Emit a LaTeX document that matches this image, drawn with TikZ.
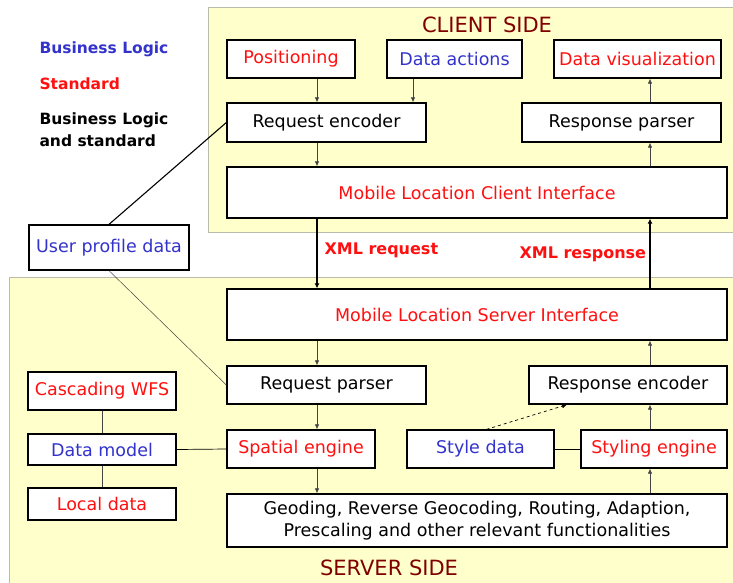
\documentclass[tikz,border=0pt]{standalone}
\usepackage{fontspec}
\setmainfont{DejaVu Sans}
\usepackage{xcolor}
\usetikzlibrary{arrows.meta}
\definecolor{zone}{HTML}{FFFFCC}
\definecolor{zoneline}{HTML}{BBBBAA}
\definecolor{logic}{HTML}{3333CC}
\definecolor{norm}{HTML}{FF1010}
\definecolor{side}{HTML}{800000}
\definecolor{wire}{HTML}{444444}

\begin{document}
\begin{tikzpicture}[x=1pt, y=-1pt,
    box/.style={draw=black, line width=1.3pt, fill=white, inner sep=0pt,
                font=\fontsize{17.5}{22}\selectfont},
    wireline/.style={draw=wire, line width=0.7pt},
    arr/.style={wireline, -{Latex[length=5pt,width=4.5pt]}},
    xmlarr/.style={draw=black, line width=1.5pt, -{Latex[length=5pt,width=5pt]}},
    tag/.style={font=\bfseries\fontsize{15.5}{22}\selectfont, anchor=west}]
    \useasboundingbox (0,0) rectangle (733,582);

    % Client and server zones
    \fill[zone, draw=zoneline, line width=1pt] (208,7) rectangle (735,232);
    \fill[zone, draw=zoneline, line width=1pt] (9,277) rectangle (735,584);
    \node[text=side, font=\fontsize{21}{24}\selectfont] (client) at (487,25) {CLIENT SIDE};
    \node[text=side, font=\fontsize{21}{24}\selectfont] (server) at (389,568) {SERVER SIDE};

    % Legend
    \node[tag, text=logic] (lgd1) at (36,49) {Business Logic};
    \node[tag, text=norm] (lgd2) at (36,84) {Standard};
    \node[tag, align=left] (lgd3) at (36,130) {Business Logic\\and standard};

    % Client boxes
    \node[box, text=norm, minimum width=128, minimum height=38] (pos) at (291,59) {Positioning};
    \node[box, text=logic, minimum width=135, minimum height=38] (act) at (454.5,59) {Data actions};
    \node[box, text=norm, minimum width=167, minimum height=38] (vis) at (637.5,59) {Data visualization};
    \node[box, minimum width=199, minimum height=39] (reqenc) at (326.5,122.5) {Request encoder};
    \node[box, minimum width=199, minimum height=39] (respar) at (621.5,122.5) {Response parser};
    \node[box, text=norm, minimum width=500, minimum height=51] (mlci) at (477,192.5) {Mobile Location Client Interface};
    \node[box, text=logic, minimum width=160, minimum height=45] (user) at (109,247.5) {User profile data};

    % Server boxes
    \node[box, text=norm, minimum width=500, minimum height=51] (mlsi) at (477,314.5) {Mobile Location Server Interface};
    \node[box, minimum width=199, minimum height=38] (reqpar) at (326.5,385) {Request parser};
    \node[box, minimum width=198, minimum height=38] (respenc) at (628,385) {Response encoder};
    \node[box, text=norm, minimum width=148, minimum height=38] (wfs) at (102,391) {Cascading WFS};
    \node[box, text=logic, minimum width=148, minimum height=31] (model) at (102,449.5) {Data model};
    \node[box, text=norm, minimum width=148, minimum height=32] (local) at (102,504) {Local data};
    \node[box, text=norm, minimum width=148, minimum height=38] (spatial) at (301,449) {Spatial engine};
    \node[box, text=logic, minimum width=147, minimum height=38] (style) at (480.5,449) {Style data};
    \node[box, text=norm, minimum width=146, minimum height=38] (styling) at (654,449) {Styling engine};
    \node[box, align=center, minimum width=500, minimum height=53] (func) at (477,520.5)
        {Geoding, Reverse Geocoding, Routing, Adaption,\\Prescaling and other relevant functionalities};

    % Columns of the flow
    \coordinate (down) at (317,0);
    \coordinate (up) at (650,0);
    \coordinate (mid) at (413,0);

    % Request path
    \draw[arr] (pos.south -| down) -- (reqenc.north -| down);
    \draw[arr] (act.south -| mid) -- (reqenc.north -| mid);
    \draw[arr] (reqenc.south -| down) -- (mlci.north -| down);
    \draw[xmlarr] (mlci.south -| down) -- (mlsi.north -| down);
    \draw[arr] (mlsi.south -| down) -- (reqpar.north -| down);
    \draw[arr] (reqpar.south -| down) -- (spatial.north -| down);
    \draw[arr] (spatial.south -| down) -- (func.north -| down);

    % Response path
    \draw[arr] (func.north -| up) -- (styling.south -| up);
    \draw[arr] (styling.north -| up) -- (respenc.south -| up);
    \draw[arr] (respenc.north -| up) -- (mlsi.south -| up);
    \draw[xmlarr] (mlsi.north -| up) -- (mlci.south -| up);
    \draw[arr] (mlci.north -| up) -- (respar.south -| up);
    \draw[arr] (respar.north -| up) -- (vis.south -| up);
    \draw[arr, dashed, draw=black] ([xshift=6pt]style.north) -- ([xshift=-61pt]respenc.south);

    % Data links
    \draw[draw=black, line width=0.7pt] (model.east) -- (spatial.west);
    \draw[draw=black, line width=0.7pt] (style.east) -- (styling.west);
    \draw[wireline] (wfs.south) -- (model.north);
    \draw[wireline] (model.south) -- (local.north);
    \draw[draw=black, line width=1.1pt] (user.north) -- (reqenc.west);
    \draw[wireline, line width=0.5pt] (user.south) -- (reqpar.west);

    % XML labels
    \node[text=norm, font=\bfseries\fontsize{16}{20}\selectfont, anchor=west] (xmlreq) at (321,250) {XML request};
    \node[text=norm, font=\bfseries\fontsize{16}{20}\selectfont, anchor=west] (xmlresp) at (516,254) {XML response};
\end{tikzpicture}
\end{document}
